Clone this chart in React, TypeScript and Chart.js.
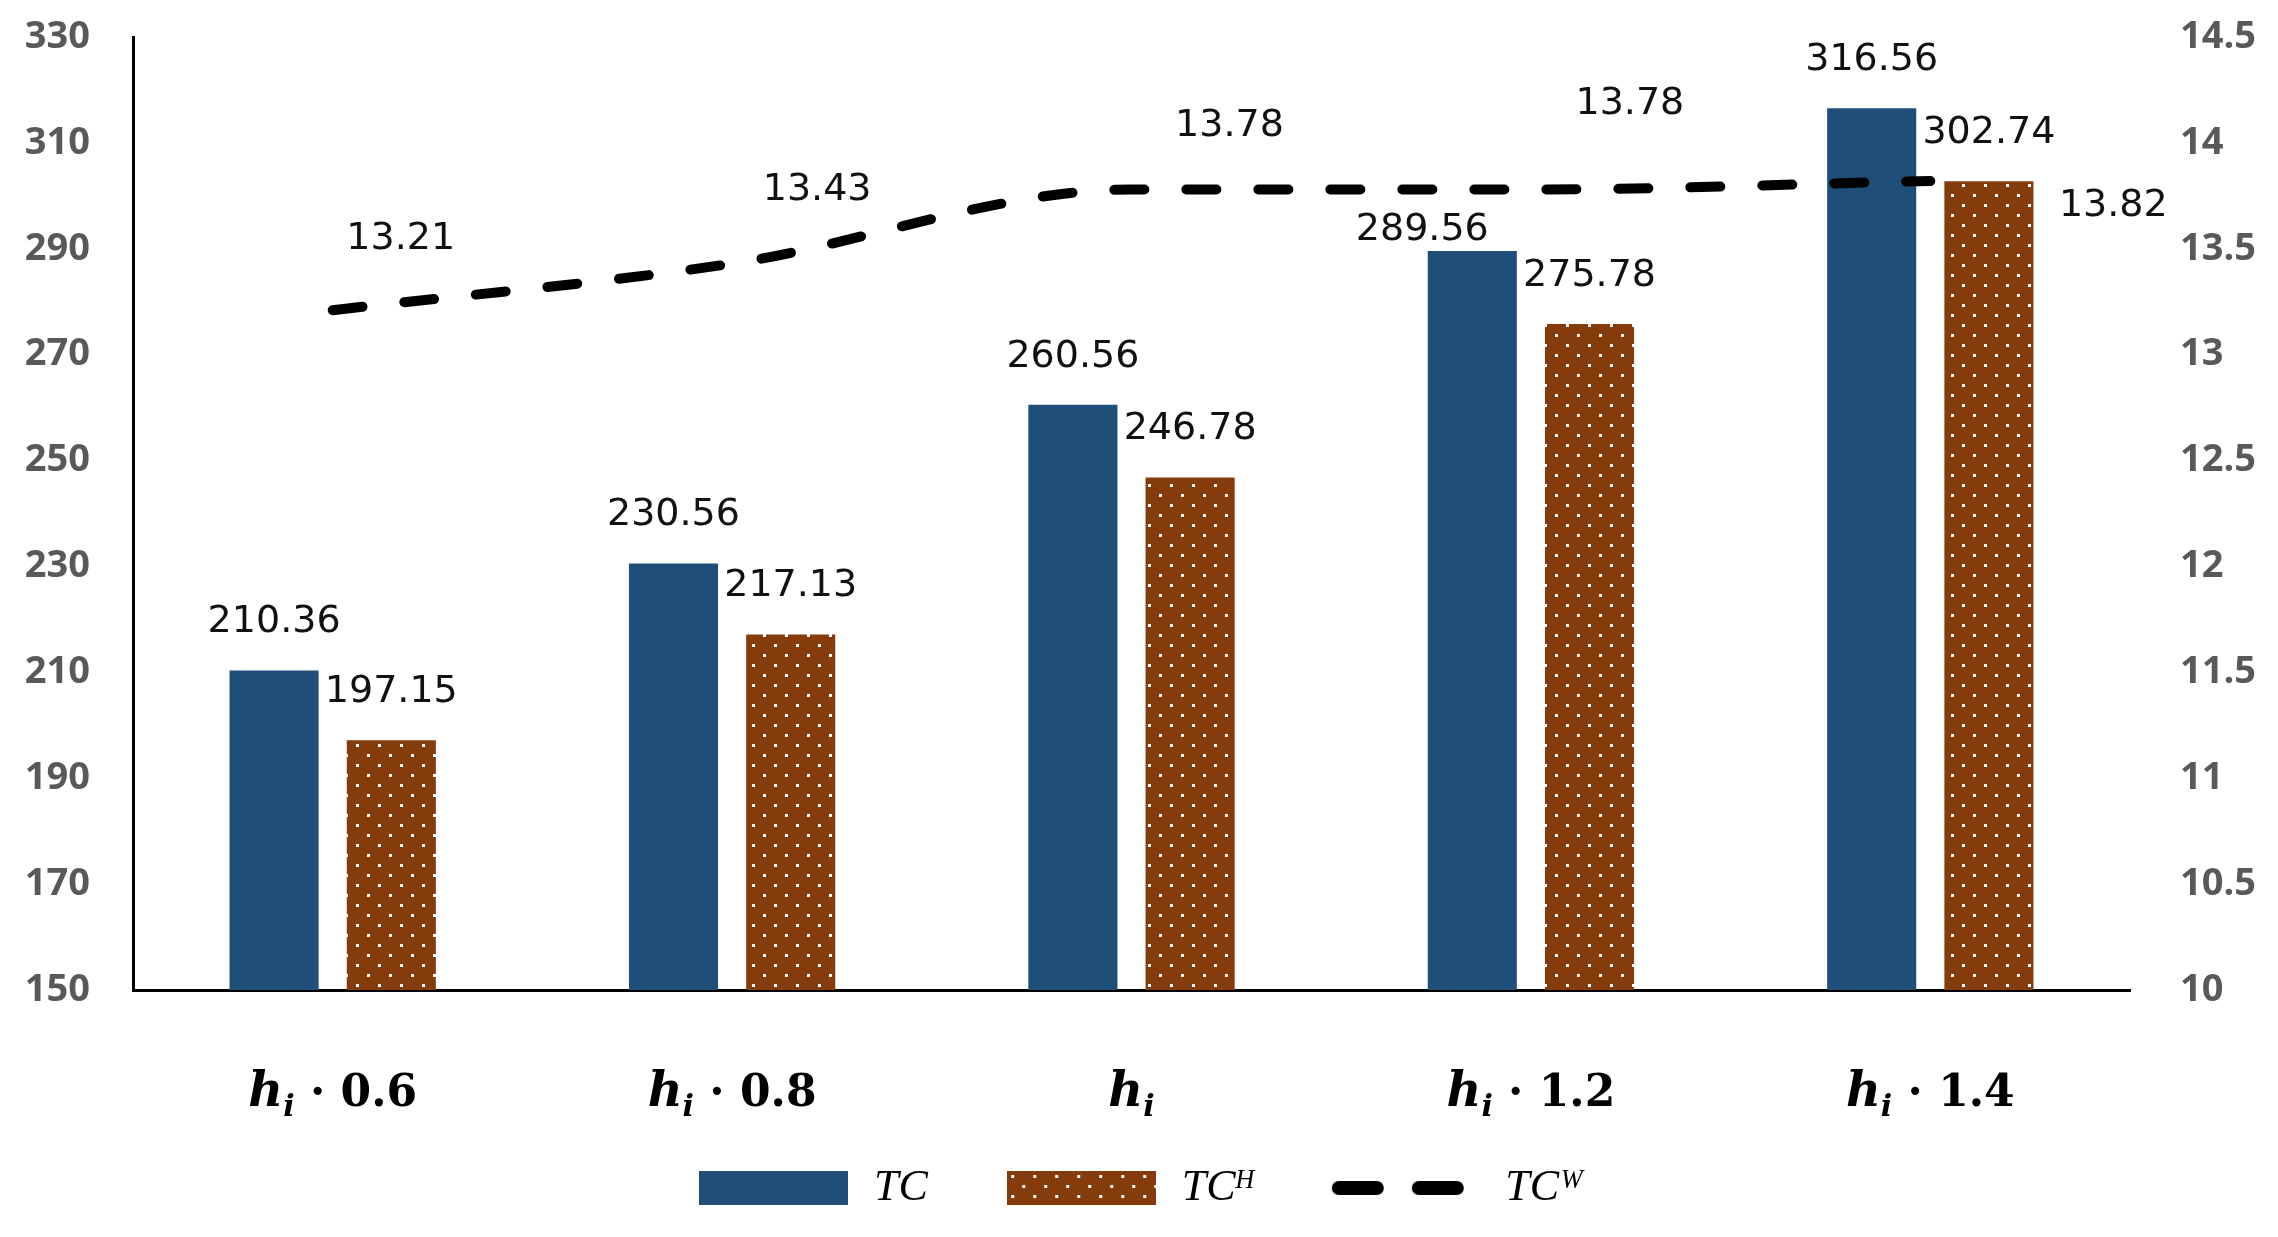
import React, { useEffect, useRef } from "react";
import { Chart, registerables } from "chart.js";

Chart.register(...registerables);

// chart data
const categories = ["h_i · 0.6", "h_i · 0.8", "h_i", "h_i · 1.2", "h_i · 1.4"];
const tcValues = [210.36, 230.56, 260.56, 289.56, 316.56];
const tchValues = [197.15, 217.13, 246.78, 275.78, 302.74];
const tcwValues = [13.21, 13.43, 13.78, 13.78, 13.82];
const seriesNames = ["TC", "TCᴴ", "TCᵂ"];
const leftTicks = [150, 170, 190, 210, 230, 250, 270, 290, 310, 330];
const rightTicks = [10, 10.5, 11, 11.5, 12, 12.5, 13, 13.5, 14, 14.5];

// label nudges (px), as the labels were placed in the original
const lineLabelNudge = [
  [68, -71],
  [85, -73],
  [98, -63],
  [99, -85],
  [183, 25],
];
const tcLabelNudge = [
  [0, 0],
  [0, 0],
  [0, 0],
  [-50, 27],
  [0, 0],
];

const BLUE = "#1F4E79";
const BROWN = "#843C0C";
const TICK_GREY = "#595959";
const X_LABEL_BASE = 116; // baseline of the x labels below the axis

function dotTile() {
  const c = document.createElement("canvas");
  c.width = 22;
  c.height = 20;
  const g = c.getContext("2d")!;
  g.fillStyle = BROWN;
  g.fillRect(0, 0, 22, 20);
  g.fillStyle = "#fff";
  g.fillRect(4, 4, 3, 3);
  g.fillRect(15, 14, 3, 3);
  return c;
}

function legendIcons(pattern: CanvasPattern | string) {
  const blue = document.createElement("canvas");
  blue.width = 149;
  blue.height = 34;
  const gb = blue.getContext("2d")!;
  gb.fillStyle = BLUE;
  gb.fillRect(0, 0, 149, 34);

  const brown = document.createElement("canvas");
  brown.width = 149;
  brown.height = 34;
  const gr = brown.getContext("2d")!;
  gr.fillStyle = pattern;
  gr.fillRect(0, 0, 149, 34);

  const line = document.createElement("canvas");
  line.width = 149;
  line.height = 16;
  const gl = line.getContext("2d")!;
  gl.strokeStyle = "#000";
  gl.lineWidth = 14;
  gl.lineCap = "round";
  gl.beginPath();
  gl.moveTo(8, 8);
  gl.lineTo(46, 8);
  gl.moveTo(88, 8);
  gl.lineTo(126, 8);
  gl.stroke();

  return [blue, brown, line];
}

// x labels drawn as h (italic) with subscript i, then the factor
const mathTicks = {
  id: "mathTicks",
  afterDraw(chart: any) {
    const sx = chart.scales.x;
    const ctx = chart.ctx as CanvasRenderingContext2D;
    ctx.save();
    ctx.fillStyle = "#000";
    ctx.textAlign = "left";
    ctx.textBaseline = "alphabetic";
    const base = sx.top + X_LABEL_BASE;
    categories.forEach((lab, i) => {
      const rest = lab.replace("h_i", "");
      const parts = [
        { t: "h", f: "italic bold 48px 'DejaVu Serif'", dy: 0 },
        { t: "i", f: "italic bold 30px 'DejaVu Serif'", dy: 10 },
        { t: rest, f: "bold 44px 'DejaVu Serif'", dy: 0 },
      ];
      let w = 0;
      parts.forEach((p) => {
        ctx.font = p.f;
        w += ctx.measureText(p.t).width;
      });
      let x = sx.getPixelForTick(i) - w / 2;
      parts.forEach((p) => {
        ctx.font = p.f;
        ctx.fillText(p.t, x, base + p.dy);
        x += ctx.measureText(p.t).width;
      });
    });
    ctx.restore();
  },
};

const valueLabels = {
  id: "valueLabels",
  afterDatasetsDraw(chart: any) {
    const ctx = chart.ctx as CanvasRenderingContext2D;
    ctx.save();
    ctx.font = "38px 'DejaVu Sans'";
    ctx.fillStyle = "#111";
    ctx.textAlign = "center";
    ctx.textBaseline = "middle";
    chart.data.datasets.forEach((ds: any, di: number) => {
      const meta = chart.getDatasetMeta(di);
      meta.data.forEach((el: any, i: number) => {
        const txt = (ds.data[i] as number).toFixed(2);
        if (ds.type === "line") {
          const [dx, dy] = lineLabelNudge[i];
          ctx.fillText(txt, el.x + dx, el.y + dy);
        } else {
          const [dx, dy] = di === 0 ? tcLabelNudge[i] : [0, 0];
          ctx.fillText(txt, el.x + dx, el.y - 48 + dy);
        }
      });
    });
    ctx.restore();
  },
};

// fixed axis sizes (Chart.js would add the tick padding on both sides)
const fixWidth = (w: number) => (scale: any) => {
  scale.width = w;
  scale.paddingTop = 0;
  scale.paddingBottom = 0;
};

const App: React.FC = () => {
  const chartRef = useRef<HTMLCanvasElement>(null);

  useEffect(() => {
    if (!chartRef.current) return;
    document.body.style.margin = "0";

    const ctx = chartRef.current.getContext("2d")!;
    const pattern = ctx.createPattern(dotTile(), "repeat") || BROWN;
    const icons = legendIcons(pattern);

    const tickFont = { family: "'Open Sans'", weight: "bold" as const, size: 38 };

    const chart = new Chart(chartRef.current, {
      type: "bar",
      data: {
        labels: categories,
        datasets: [
          {
            type: "bar",
            label: seriesNames[0],
            data: tcValues,
            backgroundColor: BLUE,
            yAxisID: "y",
            order: 1,
            barPercentage: 0.76,
            categoryPercentage: 0.587,
          },
          {
            type: "bar",
            label: seriesNames[1],
            data: tchValues,
            backgroundColor: pattern,
            yAxisID: "y",
            order: 1,
            barPercentage: 0.76,
            categoryPercentage: 0.587,
          },
          {
            type: "line",
            label: seriesNames[2],
            data: tcwValues,
            borderColor: "#000",
            backgroundColor: "#000",
            borderWidth: 10,
            borderDash: [30, 42],
            borderCapStyle: "round",
            pointRadius: 0,
            cubicInterpolationMode: "monotone",
            fill: false,
            yAxisID: "y1",
            order: 0,
          },
        ] as any,
      },
      options: {
        animation: false,
        responsive: true,
        maintainAspectRatio: false,
        layout: { padding: { top: 37, left: 22, right: 20, bottom: 17 } },
        plugins: {
          tooltip: { enabled: false },
          legend: {
            position: "bottom",
            labels: {
              usePointStyle: true,
              pointStyleWidth: 156,
              boxHeight: 34,
              padding: 76,
              color: "#000",
              font: { family: "'Liberation Serif'", style: "italic", size: 44 },
              sort: (a: any, b: any) => a.datasetIndex - b.datasetIndex,
              generateLabels: (c: any) =>
                (Chart.defaults.plugins.legend.labels as any)
                  .generateLabels(c)
                  .map((it: any) => ({ ...it, pointStyle: icons[it.datasetIndex] })),
            },
          },
        },
        scales: {
          x: {
            grid: { display: false, drawTicks: false },
            border: { color: "#000", width: 3 },
            ticks: {
              color: "rgba(0,0,0,0)",
              padding: 10,
              maxRotation: 0,
              autoSkip: false,
              font: { size: 10 },
            },
            afterFit: (scale: any) => {
              scale.height = 100;
              scale.paddingLeft = 0;
              scale.paddingRight = 0;
            },
          },
          y: {
            position: "left",
            min: leftTicks[0],
            max: leftTicks[leftTicks.length - 1],
            grid: { display: false, drawTicks: false },
            border: { color: "#000", width: 3 },
            ticks: {
              stepSize: leftTicks[1] - leftTicks[0],
              padding: 43,
              color: TICK_GREY,
              font: tickFont,
            },
            afterFit: fixWidth(111),
          },
          y1: {
            position: "right",
            min: rightTicks[0],
            max: rightTicks[rightTicks.length - 1],
            grid: { display: false, drawTicks: false },
            border: { display: false },
            ticks: {
              stepSize: rightTicks[1] - rightTicks[0],
              padding: 50,
              color: TICK_GREY,
              font: tickFont,
              callback: (v: any) => String(+Number(v).toFixed(1)),
            },
            afterFit: fixWidth(128),
          },
        },
      },
      plugins: [valueLabels, mathTicks],
    });

    return () => {
      chart.destroy();
    };
  }, []);

  return (
    <div style={{ width: 2278, height: 1237, position: "relative", background: "#fff" }}>
      <canvas ref={chartRef} />
    </div>
  );
};

export default App;
